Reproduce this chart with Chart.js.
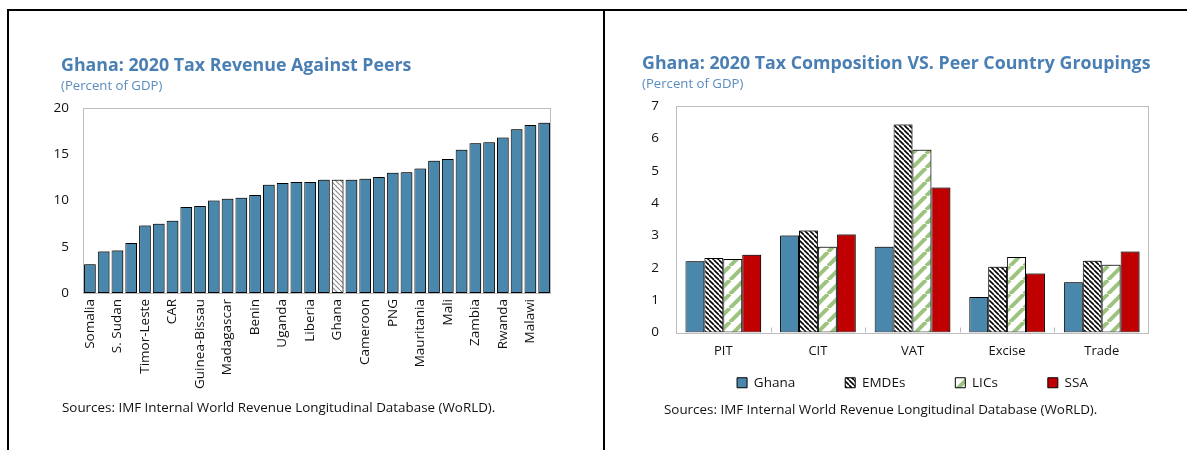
<!DOCTYPE html>
<html><head><meta charset="utf-8">
<script src="https://cdn.jsdelivr.net/npm/chart.js@4.4.1/dist/chart.umd.min.js"></script>
<style>
html,body{margin:0;padding:0;background:#fff;}
body{width:1187px;height:450px;overflow:hidden;position:relative;font-family:"Open Sans",sans-serif;}
#c1{position:absolute;left:0;top:0;}
#c2{position:absolute;left:604px;top:0;}
.frame{position:absolute;left:7px;top:9px;width:1300px;height:500px;border-top:2px solid #000;border-left:2px solid #000;box-sizing:border-box;}
.divider{position:absolute;left:603px;top:9px;width:2px;height:450px;background:#000;}
.title{position:absolute;font-weight:700;font-size:17.8px;color:#4a7fb3;white-space:nowrap;}
.sub{position:absolute;font-size:13.2px;color:#5a8cc0;white-space:nowrap;}
.src{position:absolute;font-size:13.4px;color:#111;white-space:nowrap;}
</style></head>
<body>
<canvas id="c1" width="600" height="450"></canvas>
<canvas id="c2" width="583" height="450"></canvas>
<div class="frame"></div>
<div class="divider"></div>
<div class="title" style="left:61px;top:52px;">Ghana: 2020 Tax Revenue Against Peers</div>
<div class="sub" style="left:61px;top:76px;">(Percent of GDP)</div>
<div class="src" style="left:62px;top:398px;">Sources: IMF Internal World Revenue Longitudinal Database (WoRLD).</div>
<div class="title" style="left:642px;top:50px;">Ghana: 2020 Tax Composition VS. Peer Country Groupings</div>
<div class="sub" style="left:642px;top:74px;">(Percent of GDP)</div>
<div class="src" style="left:664px;top:400px;">Sources: IMF Internal World Revenue Longitudinal Database (WoRLD).</div>
<script>
// ---- Data: left chart ----
const countries = ['Somalia','','S. Sudan','','Timor-Leste','','CAR','','Guinea-Bissau','','Madagascar','','Benin','','Uganda','','Liberia','','Ghana','','Cameroon','','PNG','','Mauritania','','Mali','','Zambia','','Rwanda','','Malawi',''];
const taxRevenue = [3.1,4.5,4.6,5.4,7.3,7.5,7.8,9.3,9.4,10.0,10.2,10.3,10.6,11.7,11.9,12.0,12.0,12.25,12.25,12.25,12.35,12.55,13.0,13.05,13.45,14.3,14.5,15.5,16.2,16.3,16.8,17.7,18.15,18.4];
const leftTicks = [0,5,10,15,20];

// ---- Data: right chart ----
const taxTypes = ['PIT','CIT','VAT','Excise','Trade'];
const ghanaComp = [2.2,3.0,2.65,1.1,1.55];
const emdesComp = [2.3,3.15,6.43,2.03,2.22];
const licsComp  = [2.27,2.65,5.65,2.33,2.09];
const ssaComp   = [2.4,3.03,4.48,1.82,2.5];
const rightTicks = [0,1,2,3,4,5,6,7];

const FONT = '"Open Sans", sans-serif';
const BLUE = '#4a87ad';
const RED = '#c00000';

function hatch(size, color, lw, dir){
  const c = document.createElement('canvas'); c.width = c.height = size;
  const x = c.getContext('2d');
  x.fillStyle = '#fff'; x.fillRect(0,0,size,size);
  x.strokeStyle = color; x.lineWidth = lw; x.beginPath();
  for (let k=-1;k<=1;k++){
    if (dir === 'down'){ x.moveTo(k*size,0); x.lineTo(k*size+size,size); }
    else { x.moveTo(k*size,size); x.lineTo(k*size+size,0); }
  }
  x.stroke();
  return x.createPattern(c,'repeat');
}
const ghanaHatch = hatch(5,'#8a8a8a',1.2,'down');
const emdesHatch = hatch(5,'#000',1.6,'down');
const licsHatch = hatch(14,'#9cc47e',4,'up');

const boxPlugin = {
  id:'box',
  beforeDatasetsDraw(chart){
    const {ctx, chartArea:a} = chart;
    ctx.save(); ctx.strokeStyle='#bdbdbd'; ctx.lineWidth=1;
    ctx.strokeRect(Math.round(a.left)+0.5, Math.round(a.top)+0.5, Math.round(a.right-a.left)-1, Math.round(a.bottom-a.top));
    ctx.restore();
  }
};
const shadowPlugin = {
  id:'barShadow',
  beforeDatasetDraw(chart){
    const c = chart.ctx; c.save();
    c.shadowColor='rgba(0,0,0,0.35)'; c.shadowOffsetX=1.5; c.shadowOffsetY=-1; c.shadowBlur=0.5;
  },
  afterDatasetDraw(chart){ chart.ctx.restore(); }
};
const innerTicks = {
  id:'innerTicks',
  afterDatasetsDraw(chart){
    const {ctx, chartArea:a} = chart; const xs = chart.scales.x;
    ctx.save(); ctx.strokeStyle='#bdbdbd'; ctx.lineWidth=1; ctx.beginPath();
    for (let i=1;i<xs.ticks.length;i++){
      const px = Math.round((xs.getPixelForValue(i-1)+xs.getPixelForValue(i))/2)+0.5;
      ctx.moveTo(px,a.bottom); ctx.lineTo(px,a.bottom-5);
    }
    ctx.stroke(); ctx.restore();
  }
};
// place legend row at a fixed vertical position while keeping wide item spacing
const legendPlace = {
  id:'legendPlace',
  beforeDraw(chart){
    const lg = chart.legend; if (!lg) return;
    const P = lg.options.labels.padding;
    const dy = 376 - P - lg.top;
    lg.top += dy; lg.bottom += dy;
  }
};

const ctx1 = document.getElementById('c1').getContext('2d');
const ghanaIdx = countries.indexOf('Ghana');
new Chart(ctx1, {
  type:'bar',
  data:{ labels: countries, datasets:[{
    data: taxRevenue,
    backgroundColor: taxRevenue.map((v,i)=> i===ghanaIdx ? ghanaHatch : BLUE),
    borderColor:'#000', borderWidth:1, borderSkipped:false,
    categoryPercentage:1, barPercentage:0.85
  }]},
  options:{
    responsive:false, animation:false,
    layout:{padding:{left:0,top:108,right:49,bottom:0}},
    plugins:{legend:{display:false}, tooltip:{enabled:false}},
    scales:{
      x:{ grid:{display:false, drawTicks:false}, border:{display:false},
          ticks:{autoSkip:false, minRotation:90, maxRotation:90, padding:6, color:'#111', font:{family:FONT,size:13.5}},
          afterFit(s){ s.height = 157; } },
      y:{ min:0, max:20, grid:{display:false, drawTicks:false}, border:{display:false},
          afterBuildTicks(s){ s.ticks = leftTicks.map(v=>({value:v})); },
          ticks:{padding:14, color:'#111', font:{family:FONT,size:13.5}},
          afterFit(s){ s.width = 83; } }
    }
  },
  plugins:[boxPlugin, shadowPlugin]
});

const ctx2 = document.getElementById('c2').getContext('2d');
const common = {borderColor:'#000', borderWidth:1, borderSkipped:false, categoryPercentage:0.8, barPercentage:1};
new Chart(ctx2, {
  type:'bar',
  data:{ labels: taxTypes, datasets:[
    {label:'Ghana', data:ghanaComp, backgroundColor:BLUE, ...common},
    {label:'EMDEs', data:emdesComp, backgroundColor:emdesHatch, ...common},
    {label:'LICs', data:licsComp, backgroundColor:licsHatch, ...common},
    {label:'SSA', data:ssaComp, backgroundColor:RED, ...common}
  ]},
  options:{
    responsive:false, animation:false,
    layout:{padding:{left:0,top:106,right:38,bottom:14}},
    plugins:{
      tooltip:{enabled:false},
      legend:{ position:'bottom', fullSize:false,
        labels:{boxWidth:10, boxHeight:10, padding:50, color:'#111', font:{family:FONT,size:13.5}} }
    },
    scales:{
      x:{ grid:{display:false, drawTicks:false}, border:{display:false},
          ticks:{padding:11, color:'#111', font:{family:FONT,size:13}},
          afterFit(s){ s.height = 30; } },
      y:{ min:0, max:7, grid:{display:false, drawTicks:false}, border:{display:false},
          afterBuildTicks(s){ s.ticks = rightTicks.map(v=>({value:v})); },
          ticks:{padding:17, color:'#111', font:{family:FONT,size:13.5}},
          afterFit(s){ s.width = 72; } }
    }
  },
  plugins:[boxPlugin, shadowPlugin, innerTicks, legendPlace]
});
</script>
</body></html>
